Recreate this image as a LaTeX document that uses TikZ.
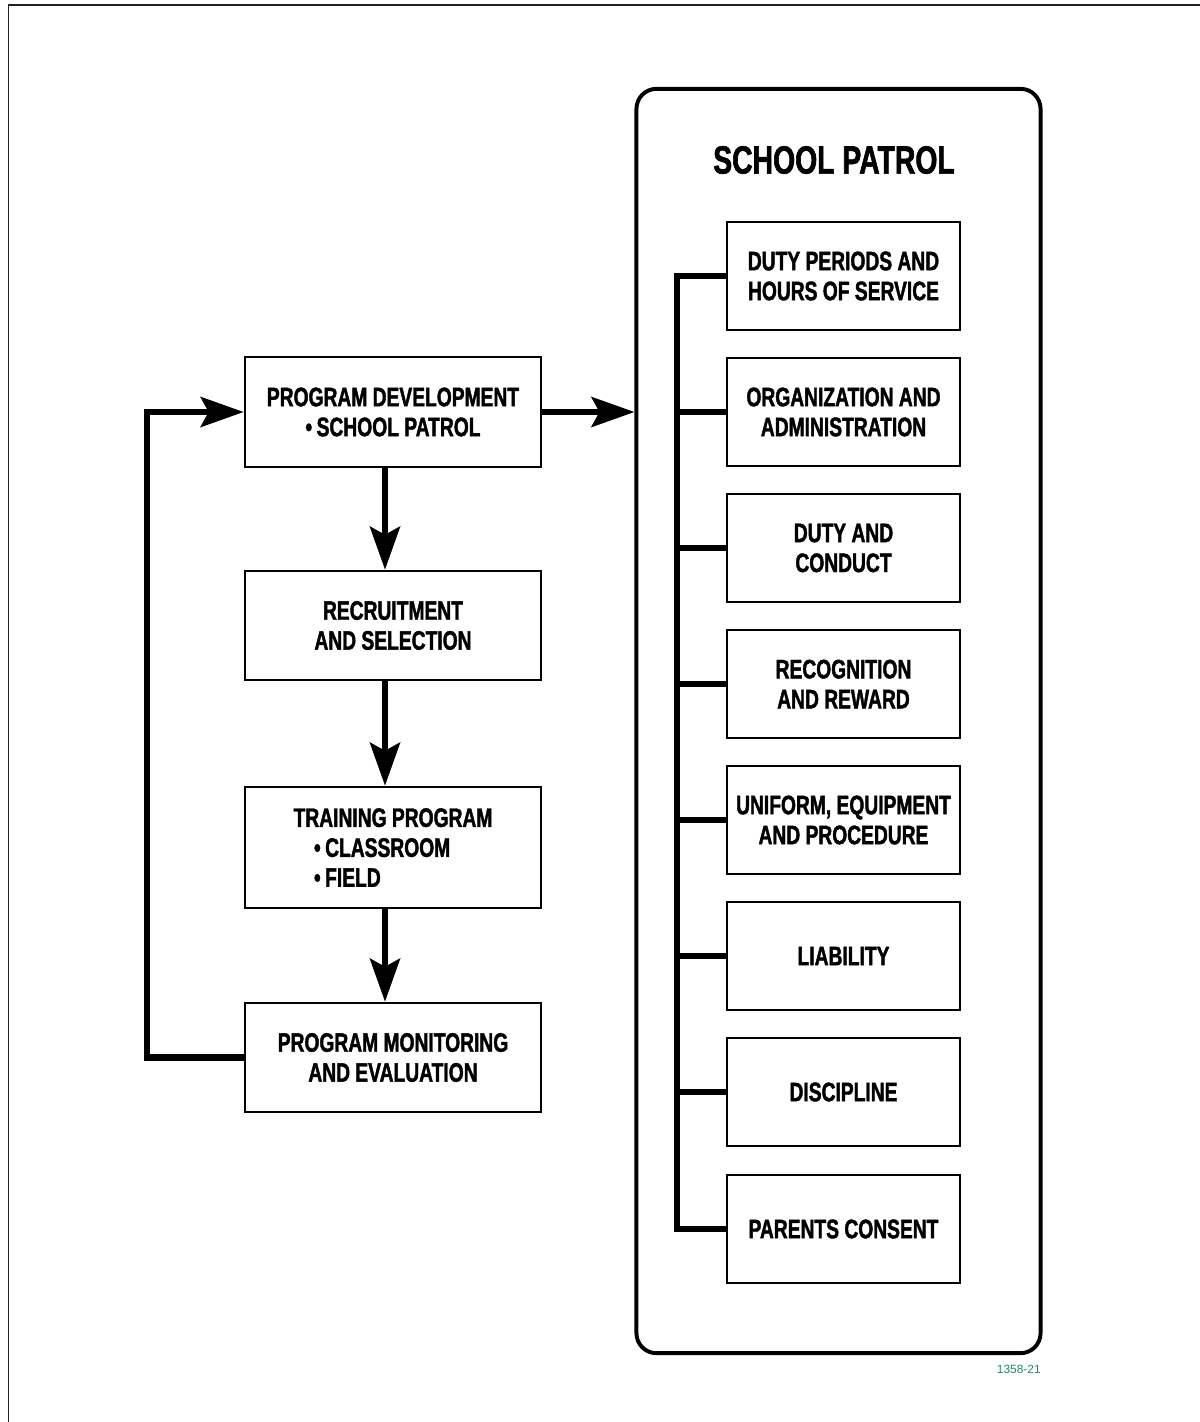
\documentclass[tikz,border=0pt]{standalone}
\usepackage{fontspec}
\setmainfont{Liberation Sans}
\newfontfamily\condfont[FakeStretch=0.72, BoldFeatures={FakeBold=1.5}]{Liberation Sans}
\usetikzlibrary{arrows.meta}
\definecolor{cframe}{HTML}{222222}
\definecolor{cnum}{HTML}{1E8C64}
\tikzset{
  every picture/.style={line width=1.8pt},
  box/.style={draw, rectangle, align=center, inner sep=0pt, font={\condfont\bfseries\fontsize{19}{21.3}\selectfont}},
  lbox/.style={box, minimum width=7.4cm, minimum height=#1},
  lbox/.default=2.75cm,
  rbox/.style={box, minimum width=5.825cm, minimum height=2.7cm},
  panel/.style={draw, rounded corners=0.5cm, line width=2.8pt, minimum width=10.1cm, minimum height=31.6cm},
  arrow/.style={-{Stealth[length=1.075cm, width=0.75cm, inset=0.2cm]}, line width=4.3pt},
  conn/.style={line width=4.3pt},
  title/.style={font={\condfont\bfseries\fontsize{28}{30}\selectfont}},
}

\begin{document}
\begin{tikzpicture}[x=0.025cm, y=-0.025cm]
  \useasboundingbox (0,0) rectangle (1200,1422);
  \draw[cframe, line width=1.4pt] (8.5,1422) -- (8.5,5) -- (1200,5);
  % left column
  \node[lbox] (pd) at (393,412) {PROGRAM DEVELOPMENT\\\textbullet\,SCHOOL PATROL};
  \node[lbox=2.725cm] (rs) at (393,625.5) {RECRUITMENT\\AND SELECTION};
  \node[lbox=3.025cm] (tp) at (393,847.5) {TRAINING PROGRAM\\\makebox[3.95cm][l]{\textbullet\,CLASSROOM}\\\makebox[3.95cm][l]{\textbullet\,FIELD}};
  \node[lbox=2.725cm] (pme) at (393,1057.5) {PROGRAM MONITORING\\AND EVALUATION};
  \draw[arrow] ([xshift=-0.2cm]pd.south) -- ([xshift=-0.2cm]rs.north);
  \draw[arrow] ([xshift=-0.2cm]rs.south) -- ([xshift=-0.2cm]tp.north);
  \draw[arrow] ([xshift=-0.2cm]tp.south) -- ([xshift=-0.2cm]pme.north);
  \draw[arrow] (pme.west) -- ++(-97,0) |- (pd.west);
  % school patrol panel
  \node[panel] (patrol) at (838.5,721) {};
  \node[title] (ttl) at (834,160) {SCHOOL PATROL};
  \draw[arrow] (pd.east) -- (pd.east -| patrol.west);
  \node[rbox] (dp) at (843.5,276) {DUTY PERIODS AND\\HOURS OF SERVICE};
  \node[rbox] (oa) at (843.5,412) {ORGANIZATION AND\\ADMINISTRATION};
  \node[rbox] (dc) at (843.5,548) {DUTY AND\\CONDUCT};
  \node[rbox] (rr) at (843.5,684) {RECOGNITION\\AND REWARD};
  \node[rbox] (ue) at (843.5,820) {UNIFORM, EQUIPMENT\\AND PROCEDURE};
  \node[rbox] (li) at (843.5,956) {LIABILITY};
  \node[rbox] (di) at (843.5,1092) {DISCIPLINE};
  \node[rbox] (pc) at (843.5,1229) {PARENTS CONSENT};
  \coordinate (sp) at (677,0);
  \draw[conn] (dp.west) -- (dp.west -| sp) -- (pc.west -| sp) -- (pc.west);
  \draw[conn] (oa.west) -- (oa.west -| sp); \draw[conn] (dc.west) -- (dc.west -| sp);
  \draw[conn] (rr.west) -- (rr.west -| sp); \draw[conn] (ue.west) -- (ue.west -| sp);
  \draw[conn] (li.west) -- (li.west -| sp); \draw[conn] (di.west) -- (di.west -| sp);
  \node[font=\fontsize{8.5}{9}\selectfont, text=cnum, anchor=east, inner sep=0pt] (num) at (1042,1369) {1358-21};
\end{tikzpicture}
\end{document}
